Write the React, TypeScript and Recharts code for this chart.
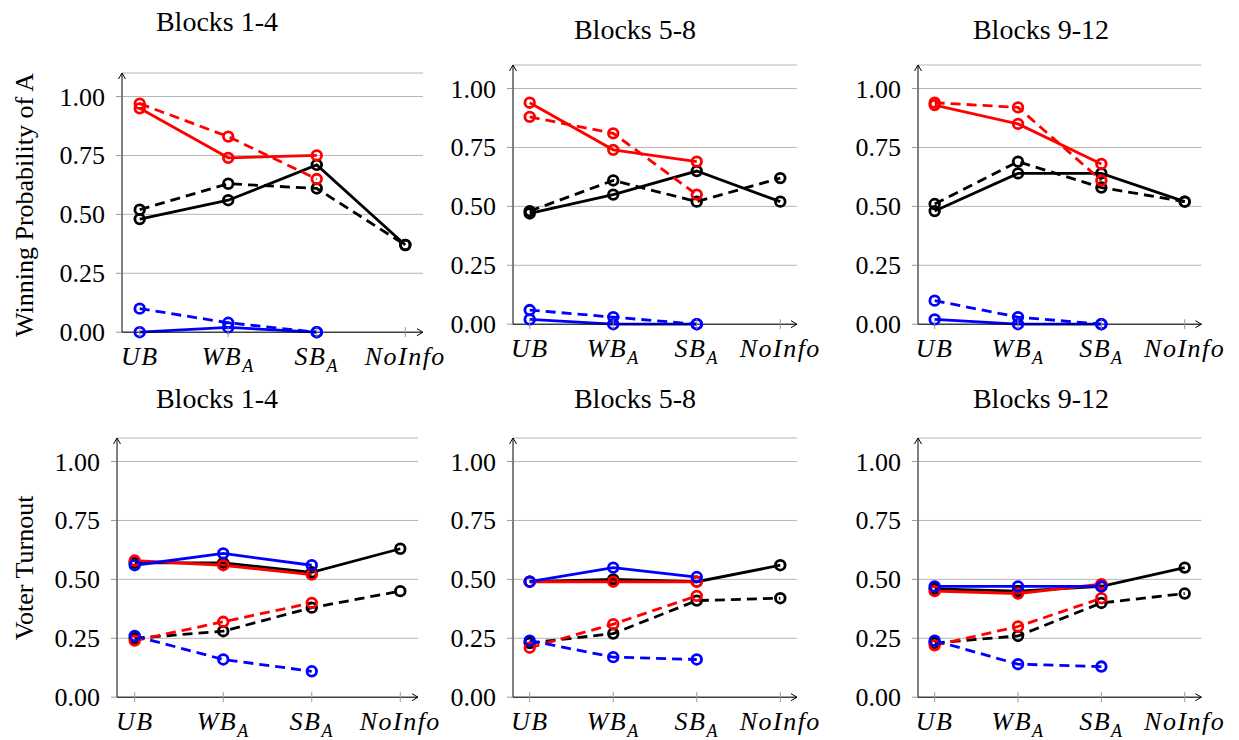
import { LineChart, Line, CartesianGrid, XAxis, YAxis } from 'recharts';

const FONT = "'Liberation Serif', 'DejaVu Serif', serif";

// x categories (index 0..3)
const categories = [
    { main: 'UB', sub: '' },
    { main: 'WB', sub: 'A' },
    { main: 'SB', sub: 'A' },
    { main: 'NoInfo', sub: '' },
];
const yTicks = [0, 0.25, 0.5, 0.75, 1.0];

const blockTitles = ['Blocks 1-4', 'Blocks 5-8', 'Blocks 9-12'];

// Winning probability of A
const winRedSolid = [[0.95, 0.74, 0.75], [0.94, 0.74, 0.69], [0.93, 0.85, 0.68]];
const winRedDashed = [[0.97, 0.83, 0.65], [0.88, 0.81, 0.55], [0.94, 0.92, 0.61]];
const winBlackSolid = [[0.48, 0.56, 0.71, 0.37], [0.47, 0.55, 0.65, 0.52], [0.48, 0.64, 0.64, 0.52]];
const winBlackDashed = [[0.52, 0.63, 0.61, 0.37], [0.48, 0.61, 0.52, 0.62], [0.51, 0.69, 0.58, 0.52]];
const winBlueSolid = [[0.0, 0.02, 0.0], [0.02, 0.0, 0.0], [0.02, 0.0, 0.0]];
const winBlueDashed = [[0.10, 0.04, 0.0], [0.06, 0.03, 0.0], [0.10, 0.03, 0.0]];

// Voter turnout
const turnRedSolid = [[0.58, 0.56, 0.52], [0.49, 0.49, 0.49], [0.45, 0.44, 0.48]];
const turnRedDashed = [[0.24, 0.32, 0.40], [0.21, 0.31, 0.43], [0.22, 0.30, 0.42]];
const turnBlackSolid = [[0.57, 0.57, 0.53, 0.63], [0.49, 0.50, 0.49, 0.56], [0.46, 0.45, 0.47, 0.55]];
const turnBlackDashed = [[0.25, 0.28, 0.38, 0.45], [0.23, 0.27, 0.41, 0.42], [0.23, 0.26, 0.40, 0.44]];
const turnBlueSolid = [[0.56, 0.61, 0.56], [0.49, 0.55, 0.51], [0.47, 0.47, 0.47]];
const turnBlueDashed = [[0.26, 0.16, 0.11], [0.24, 0.17, 0.16], [0.24, 0.14, 0.13]];

const buildRows = (rs: number[], rd: number[], ks: number[], kd: number[], bs: number[], bd: number[]) =>
    categories.map((_, i) => ({
        x: i,
        rs: rs[i] ?? null,
        rd: rd[i] ?? null,
        ks: ks[i] ?? null,
        kd: kd[i] ?? null,
        bs: bs[i] ?? null,
        bd: bd[i] ?? null,
    }));

// panel geometry
const PLOT_H = 259.2;
const YW = 70;
const MT = 10;
const MR = 40;
const XH = 50;
const topPanels = [
    { axisX: 122, zeroY: 332.3, plotW: 301 },
    { axisX: 512.5, zeroY: 324, plotW: 284 },
    { axisX: 918.3, zeroY: 324, plotW: 283.4 },
];
const bottomPanels = [
    { axisX: 117, zeroY: 697.3, plotW: 301 },
    { axisX: 512.5, zeroY: 697.3, plotW: 284 },
    { axisX: 918.3, zeroY: 697.3, plotW: 283.4 },
];

const XTick = (props: any) => {
    const { x, y, payload } = props;
    const c = categories[payload.value];
    if (!c) return null;
    return (
        <g>
            <line x1={x} x2={x} y1={y - 5} y2={y + 5} stroke="#999" strokeWidth={1} />
            <text x={x} y={y + 33} textAnchor="middle" fontSize={26} fill="#000"
                  fontFamily={FONT} fontStyle="italic" letterSpacing={1.5}>
                {c.main}
                {c.sub && <tspan dy={7} fontSize={18}>{c.sub}</tspan>}
            </text>
        </g>
    );
};

const YTick = (props: any) => {
    const { x, y, payload } = props;
    return (
        <text x={x} y={y + 9} textAnchor="end" fontSize={26} fill="#000" fontFamily={FONT}>
            {payload.value.toFixed(2)}
        </text>
    );
};

const lineStyles = [
    { key: 'kd', color: '#000000', dashed: true },
    { key: 'ks', color: '#000000', dashed: false },
    { key: 'rd', color: '#ff0000', dashed: true },
    { key: 'rs', color: '#ff0000', dashed: false },
    { key: 'bd', color: '#0000ff', dashed: true },
    { key: 'bs', color: '#0000ff', dashed: false },
];

const Panel = (props: any) => {
    const { rows, geo, id } = props;
    const plotTop = geo.zeroY - PLOT_H;
    const width = YW + geo.plotW + MR;
    const height = MT + PLOT_H + XH;
    return (
        <LineChart
            data={rows}
            width={width}
            height={height}
            margin={{ top: MT, right: MR, left: 0, bottom: 0 }}
            style={{ position: 'absolute', left: geo.axisX - YW, top: plotTop - MT }}
        >
            <defs>
                <marker id={'arr' + id} viewBox="0 0 10 10" markerWidth={10} markerHeight={10} refX={9} refY={5}
                        markerUnits="userSpaceOnUse" orient="auto-start-reverse">
                    <path d="M3,1.5 L9,5 L3,8.5" fill="none" stroke="#000" strokeWidth={1} />
                </marker>
            </defs>
            <CartesianGrid vertical={false} stroke="#b5b5b5" strokeWidth={1} />
            <XAxis
                dataKey="x"
                type="number"
                domain={[-0.2, 3.2]}
                ticks={[0, 1, 2, 3]}
                interval={0}
                height={XH}
                tickLine={false}
                tickSize={0}
                tickMargin={0}
                tick={<XTick />}
                axisLine={{ stroke: '#000', strokeWidth: 1, markerEnd: `url(#arr${id})` }}
            />
            <YAxis
                type="number"
                domain={[0, 1.1]}
                ticks={yTicks}
                interval={0}
                width={YW}
                tickSize={6}
                tickMargin={11}
                tickLine={{ stroke: '#999' }}
                tick={<YTick />}
                axisLine={{ stroke: '#000', strokeWidth: 1, markerStart: `url(#arr${id})` }}
            />
            {lineStyles.map((s) => (
                <Line
                    key={s.key}
                    dataKey={s.key}
                    type="linear"
                    stroke={s.color}
                    strokeWidth={2.8}
                    strokeDasharray={s.dashed ? '10 6' : undefined}
                    dot={{ r: 4.8, fill: 'none', stroke: s.color, strokeWidth: 2.8, strokeDasharray: 'none' }}
                    isAnimationActive={false}
                />
            ))}
        </LineChart>
    );
};

const App = () => {
    const winRows = [0, 1, 2].map((i) =>
        buildRows(winRedSolid[i], winRedDashed[i], winBlackSolid[i], winBlackDashed[i], winBlueSolid[i], winBlueDashed[i]));
    const turnRows = [0, 1, 2].map((i) =>
        buildRows(turnRedSolid[i], turnRedDashed[i], turnBlackSolid[i], turnBlackDashed[i], turnBlueSolid[i], turnBlueDashed[i]));
    const titleX = [217, 635, 1041];
    const titleTopY = [31, 39, 39];
    return (
        <div style={{ position: 'absolute', left: 0, top: 0, width: 1239, height: 740, background: '#fff', overflow: 'hidden' }}>
            <svg width={1239} height={740} style={{ position: 'absolute', left: 0, top: 0 }}>
                {blockTitles.map((t, i) => (
                    <text key={'t' + i} x={titleX[i]} y={titleTopY[i]} textAnchor="middle" fontSize={28} fontFamily={FONT}>{t}</text>
                ))}
                {blockTitles.map((t, i) => (
                    <text key={'b' + i} x={titleX[i]} y={408} textAnchor="middle" fontSize={28} fontFamily={FONT}>{t}</text>
                ))}
                <text transform="translate(33,205) rotate(-90)" textAnchor="middle" fontSize={26} fontFamily={FONT}>Winning Probability of A</text>
                <text transform="translate(33,568) rotate(-90)" textAnchor="middle" fontSize={26} fontFamily={FONT}>Voter Turnout</text>
            </svg>
            {topPanels.map((g, i) => <Panel key={'w' + i} id={'w' + i} rows={winRows[i]} geo={g} />)}
            {bottomPanels.map((g, i) => <Panel key={'v' + i} id={'v' + i} rows={turnRows[i]} geo={g} />)}
        </div>
    );
};

export default App;
